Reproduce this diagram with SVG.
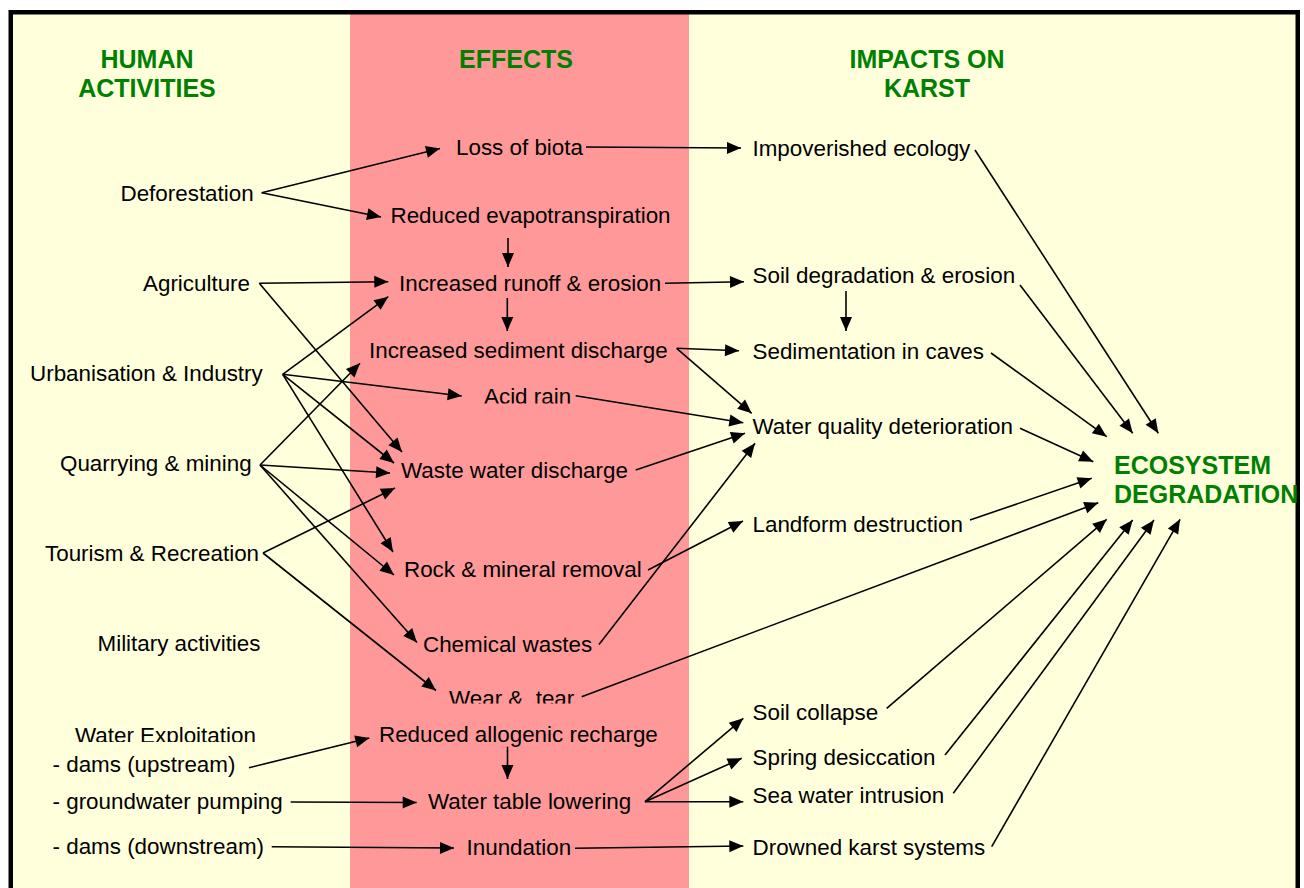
<svg xmlns="http://www.w3.org/2000/svg" width="1304" height="888" viewBox="0 0 1304 888">
<style>
text{font-family:"Liberation Sans",Arial,sans-serif;font-size:22.4px;fill:#000}
.h{font-weight:bold;font-size:25px;fill:#008000}
.c{text-anchor:middle}
#connectors line{stroke:#000;stroke-width:1.6;fill:none;marker-end:url(#ah)}
</style>
<defs>
<marker id="ah" markerUnits="userSpaceOnUse" markerWidth="14" markerHeight="12" refX="14" refY="6" orient="auto" overflow="visible">
<path d="M0,0 L14,6 L0,12 z" fill="#000"/>
</marker>
<clipPath id="clipAcid"><rect x="470" y="370" width="120" height="33.5"/></clipPath>
<clipPath id="clipWear"><rect x="440" y="670" width="150" height="33.5"/></clipPath>
<clipPath id="clipWater"><rect x="60" y="710" width="220" height="32"/></clipPath>
</defs>
<rect x="0" y="0" width="1304" height="888" fill="#fff"/>
<rect x="11" y="12.5" width="1287" height="900" fill="#FFFFDC"/>
<rect x="350" y="13.5" width="339" height="880" fill="#FF9999"/>
<rect x="10.75" y="12.25" width="1287" height="900" fill="none" stroke="#000" stroke-width="4.5"/>

<g id="headers">
<text class="h c" x="147" y="68">HUMAN</text>
<text class="h c" x="147" y="97">ACTIVITIES</text>
<text class="h c" x="516" y="68">EFFECTS</text>
<text class="h c" x="927" y="68">IMPACTS ON</text>
<text class="h c" x="927" y="97">KARST</text>
</g>

<g id="n-deforestation"><text x="120.5" y="201">Deforestation</text></g>
<g id="n-agriculture"><text x="143" y="291">Agriculture</text></g>
<g id="n-urbanisation"><text x="30" y="381">Urbanisation &amp; Industry</text></g>
<g id="n-quarrying"><text x="60" y="471">Quarrying &amp; mining</text></g>
<g id="n-tourism"><text x="45" y="561">Tourism &amp; Recreation</text></g>
<g id="n-military"><text x="97.5" y="651">Military activities</text></g>
<g id="n-water-exploitation"><text x="75" y="743" clip-path="url(#clipWater)">Water Exploitation</text></g>
<g id="n-dams-up"><text x="52.5" y="772">- dams (upstream)</text></g>
<g id="n-groundwater"><text x="52.5" y="809">- groundwater pumping</text></g>
<g id="n-dams-down"><text x="52.5" y="854">- dams (downstream)</text></g>

<g id="n-loss-biota"><text x="456" y="155">Loss of biota</text></g>
<g id="n-reduced-evapo"><text x="390.5" y="223">Reduced evapotranspiration</text></g>
<g id="n-runoff"><text x="399" y="291">Increased runoff &amp; erosion</text></g>
<g id="n-sediment"><text x="369" y="358">Increased sediment discharge</text></g>
<g id="n-acid-rain"><text x="484" y="404" clip-path="url(#clipAcid)">Acid rain</text></g>
<g id="n-waste-water"><text x="401" y="478">Waste water discharge</text></g>
<g id="n-rock"><text x="404" y="576.5">Rock &amp; mineral removal</text></g>
<g id="n-chemical"><text x="423" y="651.5">Chemical wastes</text></g>
<g id="n-wear"><text x="449" y="706" xml:space="preserve" clip-path="url(#clipWear)">Wear &amp;  tear</text></g>
<g id="n-allogenic"><text x="379" y="741.5">Reduced allogenic recharge</text></g>
<g id="n-water-table"><text x="428" y="809">Water table lowering</text></g>
<g id="n-inundation"><text x="466.5" y="854.5">Inundation</text></g>

<g id="n-impoverished"><text x="752.5" y="156">Impoverished ecology</text></g>
<g id="n-soil-degradation"><text x="752.5" y="283">Soil degradation &amp; erosion</text></g>
<g id="n-sedimentation"><text x="752.5" y="358.5">Sedimentation in caves</text></g>
<g id="n-water-quality"><text x="752.5" y="433.5">Water quality deterioration</text></g>
<g id="n-landform"><text x="752.5" y="531.5">Landform destruction</text></g>
<g id="n-soil-collapse"><text x="752.5" y="719.5">Soil collapse</text></g>
<g id="n-spring"><text x="752.5" y="765">Spring desiccation</text></g>
<g id="n-sea-water"><text x="752.5" y="802.5">Sea water intrusion</text></g>
<g id="n-drowned"><text x="752.5" y="855">Drowned karst systems</text></g>

<g id="n-ecosystem">
<text class="h" x="1114" y="473.5">ECOSYSTEM</text>
<text class="h" x="1114" y="503">DEGRADATION</text>
</g>

<g id="connectors">
<line x1="261.7" y1="192.7" x2="440" y2="148.5"/>
<line x1="261.7" y1="192.7" x2="381" y2="217"/>
<line x1="508" y1="238" x2="508" y2="267"/>
<line x1="586" y1="147" x2="741" y2="148"/>
<line x1="259.3" y1="283.3" x2="388.3" y2="281.7"/>
<line x1="259.3" y1="283.3" x2="402" y2="452"/>
<line x1="282.7" y1="374.3" x2="388.3" y2="296.7"/>
<line x1="282.7" y1="374.3" x2="461.7" y2="396"/>
<line x1="282.7" y1="374.3" x2="394" y2="463"/>
<line x1="282.7" y1="374.3" x2="393" y2="552"/>
<line x1="260" y1="465" x2="360" y2="363.3"/>
<line x1="260" y1="465" x2="390" y2="473"/>
<line x1="260" y1="465" x2="394" y2="575"/>
<line x1="260" y1="465" x2="417" y2="642.5"/>
<line x1="263" y1="553" x2="395" y2="488"/>
<line x1="263" y1="553" x2="436" y2="690.5"/>
<line x1="249" y1="767.7" x2="369.3" y2="738"/>
<line x1="290.7" y1="802" x2="416.7" y2="802.5"/>
<line x1="271.7" y1="846.7" x2="454" y2="848"/>
<line x1="507.5" y1="746.7" x2="507.5" y2="779"/>
<line x1="507.3" y1="298" x2="507.3" y2="331"/>
<line x1="665" y1="283.3" x2="744" y2="281.7"/>
<line x1="846" y1="291" x2="846" y2="331"/>
<line x1="676.7" y1="348.3" x2="739" y2="350.7"/>
<line x1="676.7" y1="348.3" x2="751.7" y2="413.3"/>
<line x1="575.7" y1="395.7" x2="743.3" y2="422.7"/>
<line x1="635.7" y1="470" x2="745" y2="433.3"/>
<line x1="599" y1="644.5" x2="755" y2="443.3"/>
<line x1="648" y1="570" x2="743" y2="521"/>
<line x1="581.7" y1="696.7" x2="1098.3" y2="502.7"/>
<line x1="975" y1="150" x2="1158.3" y2="433.3"/>
<line x1="1020" y1="285" x2="1132.7" y2="433.3"/>
<line x1="991" y1="353" x2="1106.7" y2="436.7"/>
<line x1="1020" y1="428.3" x2="1093.3" y2="461.7"/>
<line x1="970" y1="520" x2="1091.7" y2="478.3"/>
<line x1="886.7" y1="708.3" x2="1106.7" y2="519.3"/>
<line x1="945" y1="755" x2="1132.7" y2="520"/>
<line x1="953.3" y1="793.3" x2="1154" y2="520"/>
<line x1="991.7" y1="846.7" x2="1180" y2="519.3"/>
<line x1="645" y1="801.7" x2="743.3" y2="718.3"/>
<line x1="645" y1="801.7" x2="741.7" y2="758.3"/>
<line x1="645" y1="801.7" x2="743.3" y2="801.7"/>
<line x1="575" y1="848.3" x2="743.3" y2="846"/>
</g>
</svg>
